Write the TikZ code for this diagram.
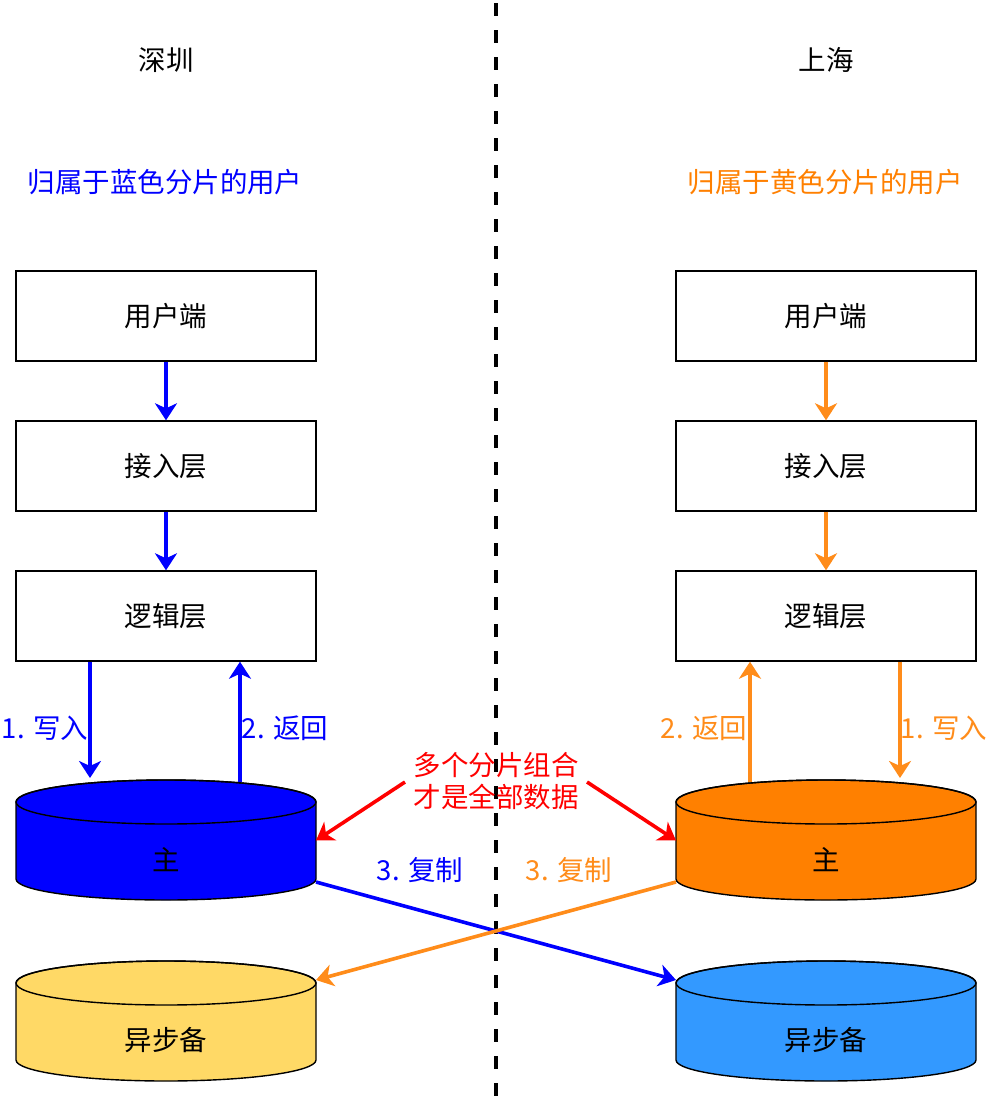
\documentclass[tikz,border=0pt]{standalone}
\usepackage{fontspec}
\setmainfont{Noto Sans CJK SC}
\usetikzlibrary{arrows.meta}
\definecolor{cblue}{HTML}{0000FF}
\definecolor{corange}{HTML}{FF8000}
\definecolor{corangeln}{HTML}{FF8C1A}
\definecolor{cyellow}{HTML}{FFD966}
\definecolor{clblue}{HTML}{3399FF}
\definecolor{cred}{HTML}{FF0000}
\tikzset{
  lbl/.style={font=\fontsize{27.5}{32}\selectfont, inner sep=0pt},
  box/.style={draw=black, line width=1.4pt, minimum width=300pt, minimum height=90pt, inner sep=0pt, font=\fontsize{27.5}{32}\selectfont},
  cylarea/.style={minimum width=300pt, minimum height=121pt, inner sep=0pt, outer sep=0pt},
  flow/.style={line width=3.6pt, -{Stealth[length=17pt,width=22pt,inset=5pt]}},
  divider/.style={line width=4.5pt, dash pattern=on 13pt off 14pt},
}
% cylinder: name, centre x, top y, fill colour
\newcommand\dbcyl[4]{%
  \node[cylarea] (#1) at (#2,#3+60.5) {};
  \draw[line width=1.4pt, fill=#4] (#2-150,#3+22) -- (#2-150,#3+99)
     arc[start angle=180, end angle=0, x radius=150, y radius=21]
     -- (#2+150,#3+22)
     arc[start angle=0, end angle=-180, x radius=150, y radius=22] -- cycle;
  \draw[line width=1.4pt] (#2,#3+22) ellipse[x radius=150, y radius=22];
}
\begin{document}
\begin{tikzpicture}[x=1pt,y=-1pt]
\useasboundingbox (0,0) rectangle (988,1096);
\fill[white] (0,0) rectangle (988,1096);

% divider
\coordinate (dtop) at (496,3);
\coordinate (dbot) at (496,1096);
\draw[divider] (dtop) -- (dbot);

% titles
\node[lbl] (tsz) at (166,60) {深圳};
\node[lbl] (tsh) at (826,60) {上海};
\node[lbl, text=cblue] (gl) at (165,182) {归属于蓝色分片的用户};
\node[lbl, text=corange] (gr) at (825,182) {归属于黄色分片的用户};

% boxes
\node[box] (u1) at (166,316) {用户端};
\node[box] (a1) at (166,466) {接入层};
\node[box] (l1) at (166,616) {逻辑层};
\node[box] (u2) at (826,316) {用户端};
\node[box] (a2) at (826,466) {接入层};
\node[box] (l2) at (826,616) {逻辑层};

% cylinders
\dbcyl{m1}{166}{780}{cblue}
\dbcyl{m2}{826}{780}{corange}
\dbcyl{b1}{166}{961}{cyellow}
\dbcyl{b2}{826}{961}{clblue}
\node[lbl] (m1t) at (166,860) {主};
\node[lbl] (m2t) at (826,860) {主};
\node[lbl] (b1t) at (166,1040) {异步备};
\node[lbl] (b2t) at (826,1040) {异步备};

% left flow
\draw[flow, cblue] (u1.south) -- (a1.north);
\draw[flow, cblue] (a1.south) -- (l1.north);
\draw[flow, cblue] ([xshift=-76pt]l1.south) -- ([xshift=-76pt, yshift=2pt]m1.north);
\draw[flow, cblue] ([xshift=74pt, yshift=-2pt]m1.north) -- ([xshift=74pt]l1.south);
\node[lbl, text=cblue] (w1) at (45,728) {1. 写入};
\node[lbl, text=cblue] (r1) at (285,728) {2. 返回};

% right flow
\draw[flow, corangeln] (u2.south) -- (a2.north);
\draw[flow, corangeln] (a2.south) -- (l2.north);
\draw[flow, corangeln] ([xshift=74pt]l2.south) -- ([xshift=74pt, yshift=2pt]m2.north);
\draw[flow, corangeln] ([xshift=-76pt, yshift=-2pt]m2.north) -- ([xshift=-76pt]l2.south);
\node[lbl, text=corangeln] (r2) at (704,728) {2. 返回};
\node[lbl, text=corangeln] (w2) at (944,728) {1. 写入};

% red note
\node[lbl, text=cred, align=center] (note) at (496,781) {多个分片组合\\才是全部数据};
\coordinate (nl) at (405,782);
\coordinate (nr) at (587,782);
\draw[flow, cred] (nl) -- (m1.east);
\draw[flow, cred] (nr) -- (m2.west);

% replication
\draw[flow, cblue] ([yshift=19pt]m1.south east) -- ([yshift=-19pt]b2.north west);
\draw[flow, corangeln] ([yshift=19pt]m2.south west) -- ([yshift=-19pt]b1.north east);
\node[lbl, text=cblue] (c1) at (420,870) {3. 复制};
\node[lbl, text=corangeln] (c2) at (569,870) {3. 复制};
\end{tikzpicture}
\end{document}
